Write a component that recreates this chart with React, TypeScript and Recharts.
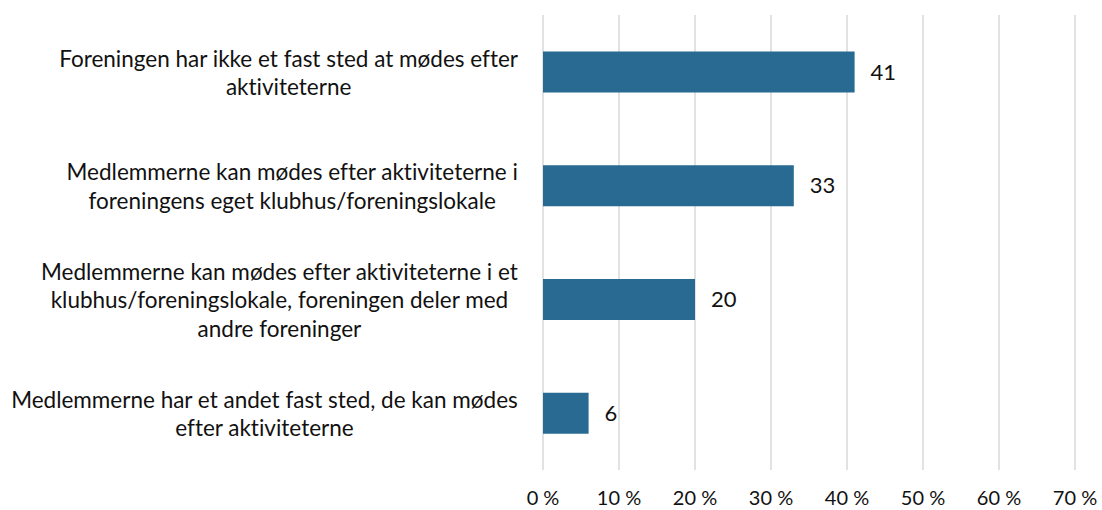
import { BarChart, Bar, XAxis, YAxis, CartesianGrid, LabelList } from 'recharts';

// category labels, line breaks as in the original
const categories = [
  'Foreningen har ikke et fast sted at mødes efter\naktiviteterne',
  'Medlemmerne kan mødes efter aktiviteterne i\nforeningens eget klubhus/foreningslokale',
  'Medlemmerne kan mødes efter aktiviteterne i et\nklubhus/foreningslokale, foreningen deler med\nandre foreninger',
  'Medlemmerne har et andet fast sted, de kan mødes\nefter aktiviteterne',
];
const shares = [41, 33, 20, 6];
const xTicks = [0, 10, 20, 30, 40, 50, 60, 70];

const FONT = 'Lato, "Open Sans", sans-serif';
const FONT_SIZE = 22.5;
const LINE_H = 28.5;
const noLig = { fontVariantLigatures: 'none' as const };

const data = categories.map((c, i) => ({ name: c, value: shares[i] }));

let ctx: CanvasRenderingContext2D | null = null;
const measure = (s: string) => {
  if (!ctx) ctx = document.createElement('canvas').getContext('2d');
  if (!ctx) return s.length * FONT_SIZE * 0.45;
  ctx.font = `${FONT_SIZE}px Lato`;
  return ctx.measureText(s).width;
};

const CategoryTick = ({ x, y, payload }: any) => {
  const lines: string[] = String(payload.value).split('\n');
  const widest = Math.max(...lines.map(measure));
  const cx = x - widest / 2;
  const top = y - ((lines.length - 1) * LINE_H) / 2;
  return (
    <text
      x={cx}
      y={top}
      textAnchor="middle"
      fill="#111"
      fontSize={FONT_SIZE}
      fontFamily={FONT}
      dominantBaseline="central"
      style={noLig}
    >
      {lines.map((l, i) => (
        <tspan key={i} x={cx} y={top + i * LINE_H}>
          {l}
        </tspan>
      ))}
    </text>
  );
};

export default function App() {
  return (
    <div style={{ position: 'absolute', left: 0, top: 0, background: '#fff' }}>
      <BarChart
        width={1102}
        height={510}
        data={data}
        layout="vertical"
        margin={{ top: 15, right: 27, left: 0, bottom: 0 }}
        barCategoryGap="32%"
      >
        <CartesianGrid horizontal={false} stroke="#d9d9d9" strokeWidth={1.5} />
        <XAxis
          type="number"
          domain={[0, 70]}
          ticks={xTicks}
          axisLine={false}
          tickLine={false}
          height={40}
          tickMargin={15}
          tickFormatter={(v) => `${v} %`}
          tick={{ fill: '#111', fontSize: 20, fontFamily: FONT }}
        />
        <YAxis
          type="category"
          dataKey="name"
          width={543}
          axisLine={false}
          tickLine={false}
          tickSize={0}
          tickMargin={25}
          tick={<CategoryTick />}
        />
        <Bar dataKey="value" fill="#286a91" isAnimationActive={false}>
          <LabelList
            dataKey="value"
            position="right"
            offset={16}
            fill="#111"
            fontSize={22}
            fontFamily={FONT}
          />
        </Bar>
      </BarChart>
    </div>
  );
}
